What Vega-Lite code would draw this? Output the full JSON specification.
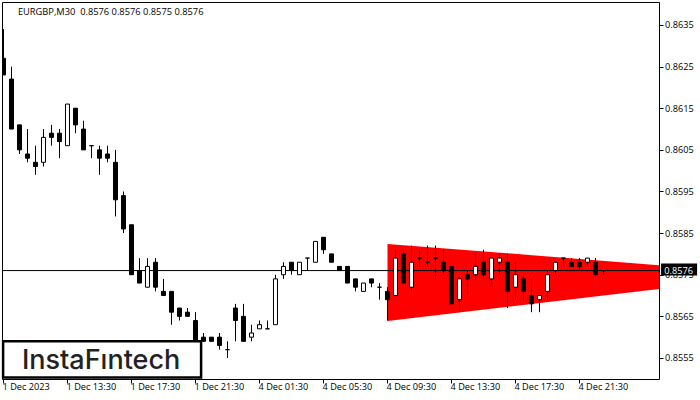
{
  "$schema": "https://vega.github.io/schema/vega-lite/v6.json",
  "width": 657,
  "height": 377,
  "autosize": {"type": "none"},
  "padding": {"left": 2, "top": 2, "right": 41, "bottom": 21},
  "background": "white",
  "config": {"view": {"stroke": "#000000", "strokeWidth": 1}, "scale": {"continuousPadding": 0}},
  "datasets": {
    "candles": [
      {"i":0,"open":0.8627,"high":0.8634,"low":0.8623,"close":0.8623},
      {"i":1,"open":0.8622,"high":0.8625,"low":0.861,"close":0.861},
      {"i":2,"open":0.8611,"high":0.8611,"low":0.8604,"close":0.8605},
      {"i":3,"open":0.8604,"high":0.861,"low":0.8602,"close":0.8603},
      {"i":4,"open":0.8602,"high":0.8606,"low":0.8599,"close":0.8601},
      {"i":5,"open":0.8602,"high":0.861,"low":0.8601,"close":0.8608},
      {"i":6,"open":0.8609,"high":0.8611,"low":0.8606,"close":0.8608},
      {"i":7,"open":0.8609,"high":0.861,"low":0.8603,"close":0.8607},
      {"i":8,"open":0.8606,"high":0.8616,"low":0.8606,"close":0.8616},
      {"i":9,"open":0.8615,"high":0.8615,"low":0.8609,"close":0.8611},
      {"i":10,"open":0.861,"high":0.8612,"low":0.8605,"close":0.8605},
      {"i":11,"open":0.8606,"high":0.8606,"low":0.8603,"close":0.8606},
      {"i":12,"open":0.8605,"high":0.8606,"low":0.8599,"close":0.8603},
      {"i":13,"open":0.8604,"high":0.8606,"low":0.8602,"close":0.8603},
      {"i":14,"open":0.8602,"high":0.8605,"low":0.8589,"close":0.8593},
      {"i":15,"open":0.8594,"high":0.8595,"low":0.8585,"close":0.8586},
      {"i":16,"open":0.8587,"high":0.8587,"low":0.8575,"close":0.8575},
      {"i":17,"open":0.8576,"high":0.8579,"low":0.8573,"close":0.8573},
      {"i":18,"open":0.8572,"high":0.8579,"low":0.8572,"close":0.8577},
      {"i":19,"open":0.8578,"high":0.8579,"low":0.8571,"close":0.8572},
      {"i":20,"open":0.8571,"high":0.8574,"low":0.857,"close":0.857},
      {"i":21,"open":0.8571,"high":0.8571,"low":0.8563,"close":0.8566},
      {"i":22,"open":0.8567,"high":0.8567,"low":0.8564,"close":0.8565},
      {"i":23,"open":0.8566,"high":0.8567,"low":0.8565,"close":0.8565},
      {"i":24,"open":0.8564,"high":0.8566,"low":0.8559,"close":0.8559},
      {"i":25,"open":0.856,"high":0.8561,"low":0.8559,"close":0.8559},
      {"i":26,"open":0.856,"high":0.856,"low":0.8559,"close":0.8559},
      {"i":27,"open":0.856,"high":0.8561,"low":0.8557,"close":0.8558},
      {"i":28,"open":0.8557,"high":0.8559,"low":0.8555,"close":0.8557},
      {"i":29,"open":0.8567,"high":0.8568,"low":0.8559,"close":0.8564},
      {"i":30,"open":0.8565,"high":0.8568,"low":0.8559,"close":0.8559},
      {"i":31,"open":0.856,"high":0.8563,"low":0.8559,"close":0.8561},
      {"i":32,"open":0.8562,"high":0.8564,"low":0.8562,"close":0.8563},
      {"i":33,"open":0.8562,"high":0.8564,"low":0.8562,"close":0.8562},
      {"i":34,"open":0.8563,"high":0.8575,"low":0.8563,"close":0.8574},
      {"i":35,"open":0.8575,"high":0.8578,"low":0.8574,"close":0.8577},
      {"i":36,"open":0.8578,"high":0.8578,"low":0.8575,"close":0.8576},
      {"i":37,"open":0.8575,"high":0.8578,"low":0.8575,"close":0.8578},
      {"i":38,"open":0.8579,"high":0.8579,"low":0.8576,"close":0.8579},
      {"i":39,"open":0.8578,"high":0.8583,"low":0.8578,"close":0.8583},
      {"i":40,"open":0.8584,"high":0.8584,"low":0.858,"close":0.8581},
      {"i":41,"open":0.858,"high":0.858,"low":0.8578,"close":0.8578},
      {"i":42,"open":0.8577,"high":0.8577,"low":0.8576,"close":0.8576},
      {"i":43,"open":0.8577,"high":0.8577,"low":0.8573,"close":0.8573},
      {"i":44,"open":0.8574,"high":0.8574,"low":0.8571,"close":0.8572},
      {"i":45,"open":0.8571,"high":0.8573,"low":0.8571,"close":0.8573},
      {"i":46,"open":0.8574,"high":0.8574,"low":0.8572,"close":0.8573},
      {"i":47,"open":0.8572,"high":0.8573,"low":0.8569,"close":0.8572},
      {"i":48,"open":0.8571,"high":0.8572,"low":0.8564,"close":0.8569},
      {"i":49,"open":0.857,"high":0.8581,"low":0.857,"close":0.8579},
      {"i":50,"open":0.858,"high":0.8581,"low":0.8573,"close":0.8573},
      {"i":51,"open":0.8572,"high":0.8582,"low":0.8571,"close":0.8578},
      {"i":52,"open":0.8579,"high":0.8581,"low":0.8577,"close":0.8579},
      {"i":53,"open":0.8578,"high":0.8582,"low":0.8577,"close":0.8578},
      {"i":54,"open":0.8579,"high":0.8582,"low":0.8574,"close":0.8579},
      {"i":55,"open":0.8578,"high":0.8581,"low":0.8575,"close":0.8576},
      {"i":56,"open":0.8577,"high":0.8577,"low":0.8568,"close":0.8568},
      {"i":57,"open":0.8569,"high":0.8574,"low":0.8566,"close":0.8574},
      {"i":58,"open":0.8575,"high":0.8576,"low":0.857,"close":0.8574},
      {"i":59,"open":0.8575,"high":0.858,"low":0.8574,"close":0.8577},
      {"i":60,"open":0.8578,"high":0.8581,"low":0.8574,"close":0.8575},
      {"i":61,"open":0.8574,"high":0.8579,"low":0.8572,"close":0.8579},
      {"i":62,"open":0.8578,"high":0.858,"low":0.8575,"close":0.8579},
      {"i":63,"open":0.8578,"high":0.858,"low":0.8567,"close":0.8571},
      {"i":64,"open":0.8572,"high":0.8578,"low":0.8569,"close":0.8575},
      {"i":65,"open":0.8574,"high":0.8575,"low":0.8569,"close":0.8571},
      {"i":66,"open":0.857,"high":0.8574,"low":0.8566,"close":0.8568},
      {"i":67,"open":0.8569,"high":0.857,"low":0.8566,"close":0.857},
      {"i":68,"open":0.8571,"high":0.8576,"low":0.8569,"close":0.8575},
      {"i":69,"open":0.8576,"high":0.8578,"low":0.8575,"close":0.8578},
      {"i":70,"open":0.8579,"high":0.8579,"low":0.8577,"close":0.8579},
      {"i":71,"open":0.8578,"high":0.8579,"low":0.8577,"close":0.8577},
      {"i":72,"open":0.8578,"high":0.8579,"low":0.8576,"close":0.8577},
      {"i":73,"open":0.8578,"high":0.8579,"low":0.8577,"close":0.8579},
      {"i":74,"open":0.8578,"high":0.8579,"low":0.8575,"close":0.8575},
      {"i":75,"open":0.8576,"high":0.8576,"low":0.8575,"close":0.8576}
    ],
    "pattern": [
      {"i":48,"top":0.85824,"bottom":0.85639},
      {"i":81.94,"top":0.85773,"bottom":0.85716}
    ]
  },
  "layer": [
    {
      "data": {"name": "pattern"},
      "mark": {"type": "area", "color": "#ff0000", "clip": true},
      "encoding": {
        "x": {
          "field": "i",
          "type": "quantitative",
          "scale": {"domain": [-0.1875, 81.94], "nice": false, "zero": false},
          "title": null,
          "axis": {
            "values": [0, 8, 16, 24, 32, 40, 48, 56, 64, 72],
            "labelExpr": "['1 Dec 2023','1 Dec 13:30','1 Dec 17:30','1 Dec 21:30','4 Dec 01:30','4 Dec 05:30','4 Dec 09:30','4 Dec 13:30','4 Dec 17:30','4 Dec 21:30'][datum.value / 8]",
            "labelAlign": "left",
            "labelBaseline": "middle",
            "labelPadding": 3,
            "labelOffset": -1.5,
            "labelFont": "Open Sans",
            "labelFontSize": 9.2,
            "labelColor": "#000000",
            "labelOverlap": false,
            "labelFlush": false,
            "tickColor": "#000000",
            "tickSize": 4,
            "domain": false,
            "grid": false
          }
        },
        "y": {
          "field": "top",
          "type": "quantitative",
          "scale": {"domain": [0.854995, 0.864052], "nice": false, "zero": false},
          "title": null,
          "axis": {
            "orient": "right",
            "values": [0.8555, 0.8565, 0.8575, 0.8585, 0.8595, 0.8605, 0.8615, 0.8625, 0.8635],
            "format": ".4f",
            "labelFont": "Open Sans",
            "labelFontSize": 9.2,
            "labelColor": "#000000",
            "labelPadding": 1.5,
            "labelOverlap": false,
            "tickColor": "#000000",
            "tickSize": 4,
            "domain": false,
            "grid": false
          }
        },
        "y2": {"field": "bottom"}
      }
    },
    {
      "data": {"values": [{"price": 0.8576, "from": -0.1875, "to": 81.94}]},
      "mark": {"type": "rule", "color": "#000000", "strokeWidth": 1},
      "encoding": {
        "y": {"field": "price", "type": "quantitative", "scale": {"domain": [0.854995, 0.864052], "nice": false, "zero": false}},
        "x": {"field": "from", "type": "quantitative", "scale": {"domain": [-0.1875, 81.94], "nice": false, "zero": false}},
        "x2": {"field": "to"}
      }
    },
    {
      "data": {"name": "candles"},
      "mark": {"type": "rule", "color": "#000000", "strokeWidth": 1, "clip": true},
      "encoding": {
        "x": {"field": "i", "type": "quantitative", "scale": {"domain": [-0.1875, 81.94], "nice": false, "zero": false}},
        "y": {"field": "high", "type": "quantitative", "scale": {"domain": [0.854995, 0.864052], "nice": false, "zero": false}},
        "y2": {"field": "low"}
      }
    },
    {
      "data": {"name": "candles"},
      "mark": {"type": "bar", "size": 4, "stroke": "#000000", "strokeWidth": 1, "clip": true},
      "encoding": {
        "x": {"field": "i", "type": "quantitative", "scale": {"domain": [-0.1875, 81.94], "nice": false, "zero": false}},
        "y": {"field": "open", "type": "quantitative", "scale": {"domain": [0.854995, 0.864052], "nice": false, "zero": false}},
        "y2": {"field": "close"},
        "fill": {
          "condition": {"test": "datum.close > datum.open", "value": "#ffffff"},
          "value": "#000000"
        }
      }
    },
    {
      "data": {"values": [{"x1": 82.2, "x2": 86.7, "y1": 0.85777, "y2": 0.85748}]},
      "mark": {"type": "rect", "color": "#000000"},
      "encoding": {
        "x": {"field": "x1", "type": "quantitative", "scale": {"domain": [-0.1875, 81.94], "nice": false, "zero": false}},
        "x2": {"field": "x2"},
        "y": {"field": "y1", "type": "quantitative", "scale": {"domain": [0.854995, 0.864052], "nice": false, "zero": false}},
        "y2": {"field": "y2"}
      }
    },
    {
      "data": {"values": [{"i": 82.6, "price": 0.8576, "label": "0.8576"}]},
      "mark": {"type": "text", "color": "#ffffff", "align": "left", "baseline": "middle", "font": "Open Sans", "fontSize": 9.2},
      "encoding": {
        "x": {"field": "i", "type": "quantitative", "scale": {"domain": [-0.1875, 81.94], "nice": false, "zero": false}},
        "y": {"field": "price", "type": "quantitative", "scale": {"domain": [0.854995, 0.864052], "nice": false, "zero": false}},
        "text": {"field": "label"}
      }
    },
    {
      "data": {"values": [{"i": 1.8, "price": 0.8638, "label": "EURGBP,M30\u00a0\u00a00.8576 0.8576 0.8575 0.8576"}]},
      "mark": {"type": "text", "color": "#000000", "align": "left", "baseline": "middle", "font": "Open Sans", "fontSize": 9.3},
      "encoding": {
        "x": {"field": "i", "type": "quantitative", "scale": {"domain": [-0.1875, 81.94], "nice": false, "zero": false}},
        "y": {"field": "price", "type": "quantitative", "scale": {"domain": [0.854995, 0.864052], "nice": false, "zero": false}},
        "text": {"field": "label"}
      }
    },
    {
      "data": {"values": [{"x1": -0.05, "x2": 24.7, "y1": 0.8559, "y2": 0.85503}]},
      "mark": {"type": "rect", "fill": "#ffffff", "stroke": "#000000", "strokeWidth": 2.5},
      "encoding": {
        "x": {"field": "x1", "type": "quantitative", "scale": {"domain": [-0.1875, 81.94], "nice": false, "zero": false}},
        "x2": {"field": "x2"},
        "y": {"field": "y1", "type": "quantitative", "scale": {"domain": [0.854995, 0.864052], "nice": false, "zero": false}},
        "y2": {"field": "y2"}
      }
    },
    {
      "data": {"values": [{"i": 12.2, "price": 0.85524, "label": "InstaFıntech"}]},
      "mark": {"type": "text", "color": "#222222", "align": "center", "baseline": "alphabetic", "font": "Inter", "fontSize": 27, "fontWeight": 500},
      "encoding": {
        "x": {"field": "i", "type": "quantitative", "scale": {"domain": [-0.1875, 81.94], "nice": false, "zero": false}},
        "y": {"field": "price", "type": "quantitative", "scale": {"domain": [0.854995, 0.864052], "nice": false, "zero": false}},
        "text": {"field": "label"}
      }
    }
  ]
}
